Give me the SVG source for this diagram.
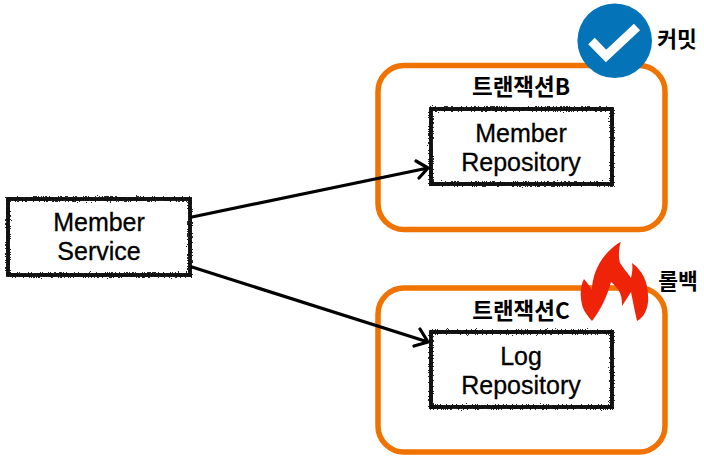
<svg xmlns="http://www.w3.org/2000/svg" width="704" height="461" viewBox="0 0 704 461">
<defs><filter id="rough" x="-5%" y="-10%" width="110%" height="120%" color-interpolation-filters="sRGB"><feTurbulence type="fractalNoise" baseFrequency="0.8" numOctaves="2" seed="4" result="n"/><feDisplacementMap in="SourceGraphic" in2="n" scale="6" result="d"/><feMerge><feMergeNode in="d"/><feMergeNode in="SourceGraphic"/></feMerge></filter></defs>
<style>
.tx{stroke:#f07300;stroke-width:5.500;fill:#fff}
.box{stroke:#111;stroke-width:3.800;fill:none;filter:url(#rough)}
.lab{font-family:"Liberation Sans","Noto Sans CJK KR",sans-serif;font-size:25px;fill:#000;text-anchor:middle;stroke:#000;stroke-width:.3}
.ko{font-family:"Noto Sans CJK KR","Liberation Sans",sans-serif;font-weight:700;font-size:22.500px;fill:#000;text-anchor:middle}
.ko2{font-size:21.500px}
.conn{stroke:#000;stroke-width:3.200;fill:none;stroke-linecap:round;stroke-linejoin:round}
</style>
<rect width="704" height="461" fill="#fff"/>
<g id="txB"><rect class="tx" x="378" y="65.500" width="287" height="164" rx="26"/><text class="ko" x="521" y="95">트랜잭션B</text></g>
<g id="txC"><rect class="tx" x="378" y="288" width="287" height="164" rx="26"/><text class="ko" x="521" y="319">트랜잭션C</text></g>
<g id="memberService"><rect class="box" x="8" y="199" width="182" height="76"/><text class="lab" x="99" y="231">Member</text><text class="lab" x="99" y="260">Service</text></g>
<g id="memberRepository"><rect class="box" x="431" y="109" width="181" height="75"/><text class="lab" x="521" y="142">Member</text><text class="lab" x="521" y="171">Repository</text></g>
<g id="logRepository"><rect class="box" x="431" y="332" width="181" height="75"/><text class="lab" x="521" y="365">Log</text><text class="lab" x="521" y="394">Repository</text></g>
<g id="connectors">
<path class="conn" d="M192 217L428 168M416 161L428 168L419 178"/>
<path class="conn" d="M192 267L428 342M420 329L428 342L414 346"/>
</g>
<g id="commit"><circle cx="614.700" cy="40.700" r="37.300" fill="#0473b8"/><path d="M591.500 41L606 56L637 27" fill="none" stroke="#fff" stroke-width="9"/><text class="ko ko2" x="677" y="47">커밋</text></g>
<g id="rollback"><path d="M620.700 241.700C603 252 592 272 592 290C590 286 587 283 584 279C580 286 580 296 582 305C584 312 588 316 592 321C600 311 607 297 611 282C615 285 618 289 620 293C622 298 622 302 622 306L631 292C633 302 635 312 637 321C646 316 649 305 648 295C648 282 642 270 632 263C633 268 632 273 631 278C627 272 623 268 620 263C618 256 619 248 620.700 241.700Z" fill="#ee2308"/><text class="ko ko2" x="678" y="289">롤백</text></g>
</svg>
